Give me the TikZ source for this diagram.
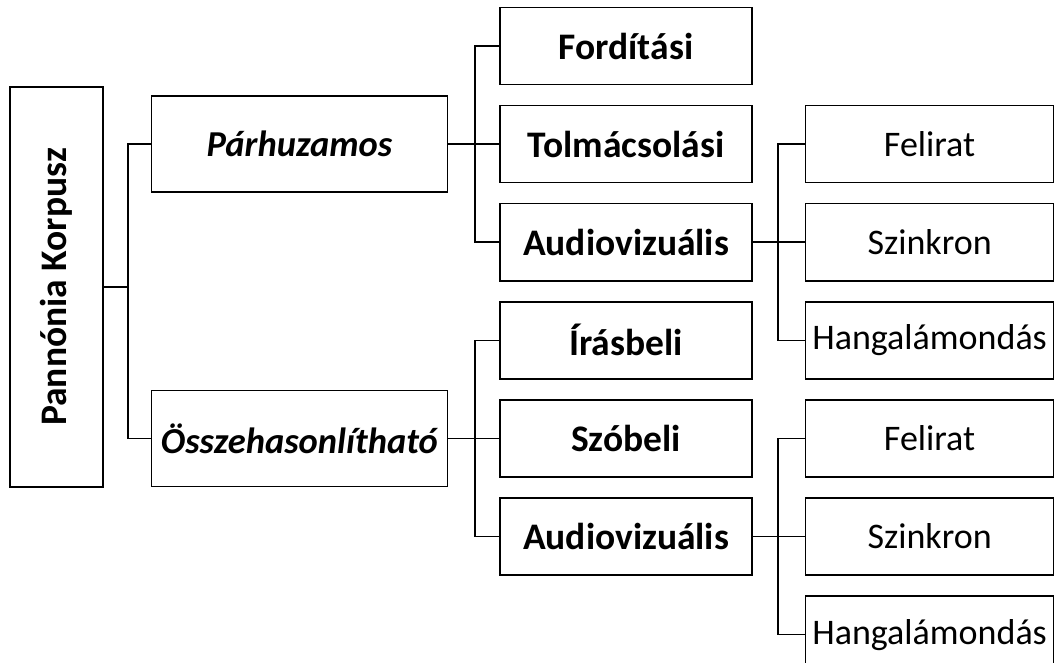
\documentclass[tikz,border=0pt]{standalone}
\usepackage{fontspec}
\setmainfont{Carlito}
\usetikzlibrary{positioning}

\tikzset{
  box/.style={draw, line width=1.6pt, inner sep=0pt, font=\fontsize{36}{42}\selectfont},
  rootbox/.style={box, minimum width=93pt, minimum height=400pt, font=\fontsize{37.5}{44}\selectfont\bfseries},
  lvltwo/.style={box, minimum width=296pt, minimum height=96pt, font=\fontsize{36.5}{42}\selectfont\bfseries\itshape},
  lvlthree/.style={box, minimum width=252pt, minimum height=77pt, font=\fontsize{37.5}{44}\selectfont\bfseries},
  lvlfour/.style={box, minimum width=248pt, minimum height=77pt},
  link/.style={line width=1.6pt}
}

\begin{document}
\begin{tikzpicture}[x=1pt, y=-1pt, node distance=19.5pt]
  \fill[white] (0,0) rectangle (1057,663);
  \useasboundingbox (0,0) rectangle (1057,663);

  % third level
  \node[lvlthree] (ford) at (626,46) {Fordítási};
  \node[lvlthree, below=of ford] (tolm) {Tolmácsolási};
  \node[lvlthree, below=of tolm] (audA) {Audiovizuális};
  \node[lvlthree, below=of audA] (iras) {Írásbeli};
  \node[lvlthree, below=of iras] (szob) {Szóbeli};
  \node[lvlthree, below=of szob] (audB) {Audiovizuális};

  % fourth level
  \node[lvlfour, right=52pt of tolm] (felA) {Felirat};
  \node[lvlfour, below=of felA] (szinA) {Szinkron};
  \node[lvlfour, below=of szinA] (hangA) {Hangalámondás};
  \node[lvlfour, below=of hangA] (felB) {Felirat};
  \node[lvlfour, below=of felB] (szinB) {Szinkron};
  \node[lvlfour, below=of szinB] (hangB) {Hangalámondás};

  % second level and root
  \node[lvltwo, left=51pt of tolm] (par) {Párhuzamos};
  \node[lvltwo, left=51pt of szob] (osz) {Összehasonlítható};
  \node[rootbox] (root) at (56.5,287) {\rotatebox{90}{Pannónia Korpusz}};

  % bracket columns
  \coordinate (bA) at (128,0);
  \coordinate (bB) at (475,0);
  \coordinate (bC) at (778,0);

  \draw[link] (root.east) -- (root.east -| bA);
  \draw[link] (par.west) -- (par.west -| bA) |- (osz.west);

  \foreach \p/\a/\b/\c in {par/ford/tolm/audA, osz/iras/szob/audB}{
    \draw[link] (\p.east) -- (\b.west);
    \draw[link] (\a.west) -- (\a.west -| bB) |- (\c.west);
  }
  \foreach \p/\a/\b/\c in {audA/felA/szinA/hangA, audB/felB/szinB/hangB}{
    \draw[link] (\p.east) -- (\b.west);
    \draw[link] (\a.west) -- (\a.west -| bC) |- (\c.west);
  }
\end{tikzpicture}
\end{document}
